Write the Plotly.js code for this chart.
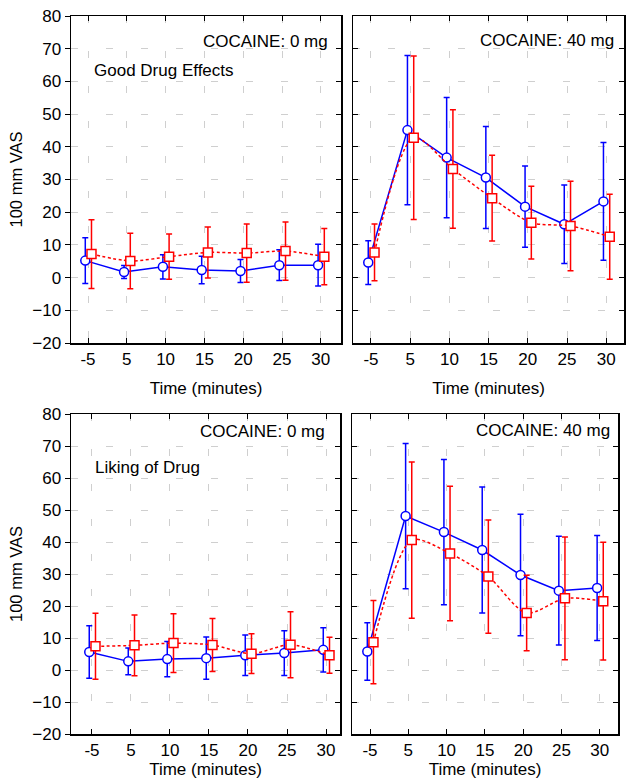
<!DOCTYPE html>
<html>
<head>
<meta charset="utf-8">
<script src="https://cdn.plot.ly/plotly-3.0.1.min.js"></script>
<style>html,body{margin:0;padding:0;background:#fff;}#chart{width:633px;height:779px;}</style>
</head>
<body>
<div id="chart"></div>
<script>
// ---- data ----
var timeLabels = ['-5', '5', '10', '15', '20', '25', '30'];
var yTicks = [-20, -10, 0, 10, 20, 30, 40, 50, 60, 70, 80];

// Good Drug Effects, cocaine 0 mg
var good0Blue = [5.2, 1.7, 3.3, 2.3, 2.0, 3.8, 3.8];
var good0BlueErr = [7.0, 2.0, 3.7, 4.2, 3.5, 4.7, 6.4];
var good0Red = [7.2, 5.1, 6.4, 7.7, 7.5, 8.1, 6.4];
var good0RedErr = [10.5, 8.5, 6.9, 7.8, 8.9, 8.9, 8.6];

// Good Drug Effects, cocaine 40 mg
var good40Blue = [4.6, 45.1, 36.7, 30.6, 21.7, 16.3, 23.3];
var good40BlueErr = [6.7, 22.8, 18.4, 15.6, 12.4, 12.0, 18.0];
var good40Red = [7.7, 42.8, 33.2, 24.3, 16.8, 15.8, 12.5];
var good40RedErr = [8.7, 25.0, 18.1, 13.1, 11.1, 13.7, 13.0];

// Liking of Drug, cocaine 0 mg
var like0Blue = [5.6, 2.7, 3.4, 3.7, 4.6, 5.3, 6.3];
var like0BlueErr = [8.2, 4.2, 5.5, 6.6, 6.3, 7.0, 6.9];
var like0Red = [7.4, 7.7, 8.4, 7.8, 5.1, 7.9, 4.6];
var like0RedErr = [10.3, 9.5, 9.2, 8.3, 6.2, 10.3, 5.6];

// Liking of Drug, cocaine 40 mg
var like40Blue = [5.8, 48.1, 43.1, 37.5, 29.7, 24.8, 25.6];
var like40BlueErr = [9.0, 22.7, 22.7, 19.7, 19.0, 17.0, 16.4];
var like40Red = [8.7, 40.6, 36.4, 29.2, 17.8, 22.4, 21.5];
var like40RedErr = [13.0, 24.4, 21.0, 17.7, 11.8, 19.2, 18.4];

// ---- build ----
var FONT = 'Arial, "Liberation Sans", sans-serif';
var BLUE = '#0000ff';
var RED = '#ff0000';
var GRID = '#cfcfcf';
var GRIDDASH = '7px,28px';
var idx = timeLabels.map(function (_, i) { return i; });
function shift(d) { return idx.map(function (i) { return i + d; }); }

function blueTrace(y, err, xa, ya) {
  return {
    x: shift(-0.07), y: y, xaxis: xa, yaxis: ya, type: 'scatter', mode: 'lines+markers',
    line: { color: BLUE, width: 1.5 },
    marker: { symbol: 'circle', size: 9, color: '#ffffff', line: { color: BLUE, width: 1.5 } },
    error_y: { type: 'data', array: err, visible: true, color: BLUE, thickness: 1.5, width: 3 },
    hoverinfo: 'skip', showlegend: false
  };
}
function redTrace(y, err, xa, ya) {
  return {
    x: shift(0.09), y: y, xaxis: xa, yaxis: ya, type: 'scatter', mode: 'lines+markers',
    line: { color: RED, width: 1.5, dash: '3px,2.5px', shape: 'spline', smoothing: 0.8 },
    marker: { symbol: 'square', size: 9, color: '#ffffff', line: { color: RED, width: 1.5 } },
    error_y: { type: 'data', array: err, visible: true, color: RED, thickness: 1.5, width: 3 },
    hoverinfo: 'skip', showlegend: false
  };
}

var traces = [
  blueTrace(good0Blue, good0BlueErr, 'x', 'y'), redTrace(good0Red, good0RedErr, 'x', 'y'),
  blueTrace(good40Blue, good40BlueErr, 'x2', 'y2'), redTrace(good40Red, good40RedErr, 'x2', 'y2'),
  blueTrace(like0Blue, like0BlueErr, 'x3', 'y3'), redTrace(like0Red, like0RedErr, 'x3', 'y3'),
  blueTrace(like40Blue, like40BlueErr, 'x4', 'y4'), redTrace(like40Red, like40RedErr, 'x4', 'y4'),
  { x: [], y: [], xaxis: 'x', yaxis: 'y5', type: 'scatter', mode: 'markers', showlegend: false, hoverinfo: 'skip' },
  { x: [], y: [], xaxis: 'x3', yaxis: 'y6', type: 'scatter', mode: 'markers', showlegend: false, hoverinfo: 'skip' }
];

function xAxis(domain, range, anchor, standoff) {
  return {
    domain: domain, range: range, anchor: anchor,
    tickmode: 'array', tickvals: idx, ticktext: timeLabels,
    ticks: 'inside', ticklen: 5, tickwidth: 1, tickcolor: '#000',
    showline: true, linecolor: '#000', linewidth: 1.5, mirror: 'ticks',
    showgrid: true, gridcolor: GRID, gridwidth: 1, griddash: GRIDDASH,
    zeroline: false,
    tickfont: { family: FONT, size: 17, color: '#000' },
    title: { text: 'Time (minutes)', font: { family: FONT, size: 17, color: '#000' }, standoff: standoff },
    automargin: false
  };
}
function yAxisLeft(domain, anchor) {
  return {
    domain: domain, range: [-20, 80], anchor: anchor,
    tickmode: 'array', tickvals: yTicks,
    ticks: 'outside', ticklen: 5, tickwidth: 1, tickcolor: '#000',
    showline: true, linecolor: '#000', linewidth: 1.5, mirror: true,
    showgrid: true, gridcolor: GRID, gridwidth: 1, griddash: GRIDDASH,
    zeroline: false,
    tickfont: { family: FONT, size: 17, color: '#000' },
    title: { text: '100 mm VAS', font: { family: FONT, size: 16.5, color: '#000' }, standoff: 5 },
    automargin: false
  };
}
function yAxisRight(domain, anchor) {
  return {
    domain: domain, range: [-20, 80], anchor: anchor,
    tickmode: 'array', tickvals: yTicks, showticklabels: false,
    ticks: 'inside', ticklen: 5, tickwidth: 1, tickcolor: '#000',
    showline: true, linecolor: '#000', linewidth: 1.5, mirror: 'ticks',
    showgrid: true, gridcolor: GRID, gridwidth: 1, griddash: GRIDDASH,
    zeroline: false, automargin: false
  };
}
function yOverlay(over, anchor) {
  return {
    overlaying: over, anchor: anchor, side: 'right', range: [-20, 80],
    tickmode: 'array', tickvals: yTicks, showticklabels: false,
    ticks: 'inside', ticklen: 5, tickwidth: 1, tickcolor: '#000',
    showline: false, showgrid: false, zeroline: false, automargin: false
  };
}

var topDom = [1 - 343 / 779, 1 - 16 / 779];
var botDom = [1 - 734 / 779, 1 - 414 / 779];

function ann(text, xref, yref, x, y, anchor) {
  return {
    text: text, xref: xref, yref: yref, x: x, y: y, xanchor: anchor, yanchor: 'middle',
    showarrow: false, font: { family: FONT, size: 17, color: '#000' }
  };
}

var layout = {
  width: 633, height: 779,
  margin: { l: 0, r: 0, t: 0, b: 0 },
  paper_bgcolor: '#ffffff', plot_bgcolor: '#ffffff',
  showlegend: false,
  xaxis: xAxis([71 / 633, 341 / 633], [-0.438, 6.52], 'y', 14),
  yaxis: yAxisLeft(topDom, 'x'),
  xaxis2: xAxis([353 / 633, 624 / 633], [-0.459, 6.454], 'y2', 14),
  yaxis2: yAxisRight(topDom, 'x2'),
  xaxis3: xAxis([71 / 633, 340 / 633], [-0.538, 6.359], 'y3', 6),
  yaxis3: yAxisLeft(botDom, 'x3'),
  xaxis4: xAxis([352 / 633, 618 / 633], [-0.47, 6.475], 'y4', 6),
  yaxis4: yAxisRight(botDom, 'x4'),
  yaxis5: yOverlay('y', 'x'),
  yaxis6: yOverlay('y3', 'x3'),
  annotations: [
    ann('COCAINE: 0 mg', 'x domain', 'y domain', 0.96, 0.921, 'right'),
    ann('Good Drug Effects', 'x domain', 'y domain', 0.077, 0.832, 'left'),
    ann('COCAINE: 40 mg', 'x2 domain', 'y2 domain', 0.97, 0.924, 'right'),
    ann('COCAINE: 0 mg', 'x3 domain', 'y3 domain', 0.95, 0.944, 'right'),
    ann('Liking of Drug', 'x3 domain', 'y3 domain', 0.082, 0.834, 'left'),
    ann('COCAINE: 40 mg', 'x4 domain', 'y4 domain', 0.977, 0.947, 'right')
  ]
};

Plotly.newPlot('chart', traces, layout, { displayModeBar: false, staticPlot: true });
</script>
</body>
</html>
